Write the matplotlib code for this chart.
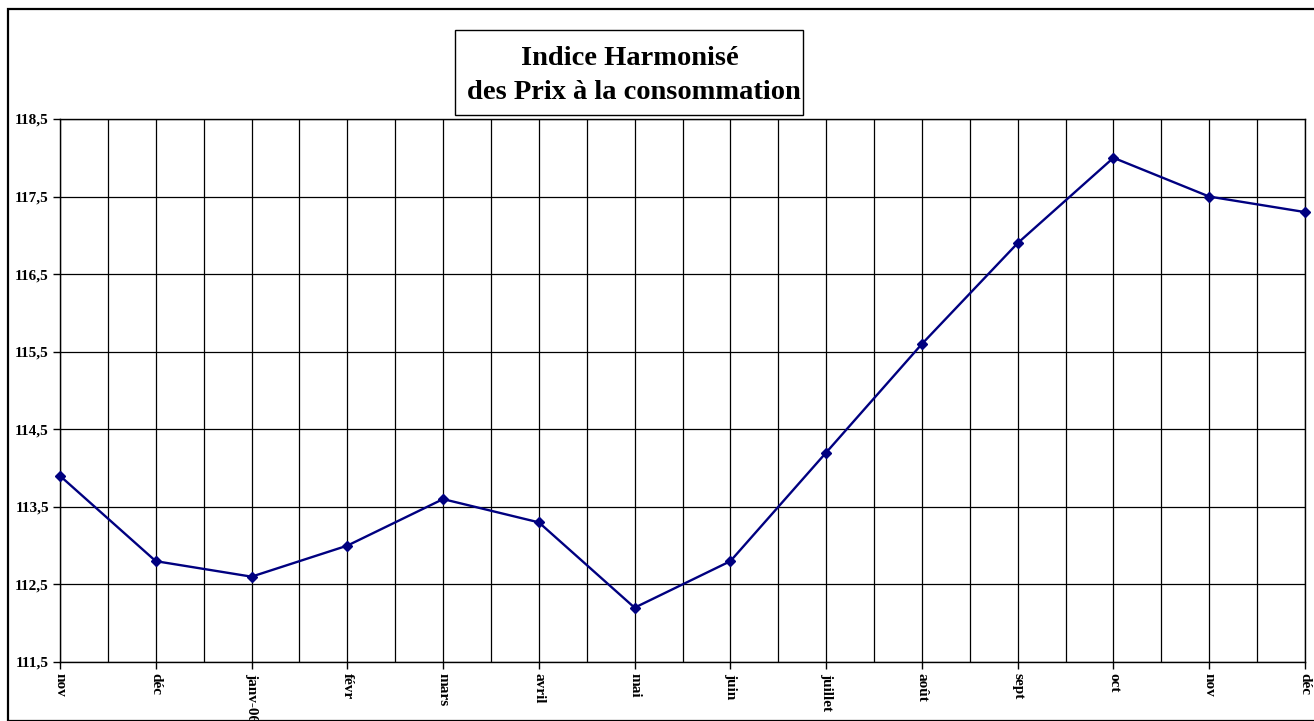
import matplotlib
matplotlib.use("Agg")
import matplotlib.pyplot as plt
from matplotlib.patches import Rectangle
import numpy as np

categories = ["nov", "déc", "janv-06", "févr", "mars", "avril", "mai", "juin",
              "juillet", "août", "sept", "oct", "nov", "déc"]
values = [113.9, 112.8, 112.6, 113.0, 113.6, 113.3, 112.2, 112.8,
          114.2, 115.6, 116.9, 118.0, 117.5, 117.3]
yticks = [111.5, 112.5, 113.5, 114.5, 115.5, 116.5, 117.5, 118.5]
ytick_labels = ["111,5", "112,5", "113,5", "114,5", "115,5", "116,5", "117,5", "118,5"]
title_lines = ["Indice Harmonisé", "des Prix à la consommation"]

plt.rcParams['font.family'] = ['Liberation Serif', 'DejaVu Serif']

W, H = 1314, 721
fig = plt.figure(figsize=(W / 100, H / 100), dpi=100)

# outer frame
fig.patches.append(Rectangle((8 / W, 0), 2.0, (H - 9) / H, transform=fig.transFigure,
                             fill=False, edgecolor='black', linewidth=1.6, zorder=0))

ax = fig.add_axes([60 / W, (H - 662) / H, 1245 / W, 543 / H])
x = np.arange(len(categories))
ax.plot(x, values, color='#000080', linewidth=1.7, marker='D', markersize=5,
        markerfacecolor='#000080', markeredgecolor='#000080', zorder=3, clip_on=False)

ax.set_xlim(0, len(categories) - 1)
ax.set_ylim(111.5, 118.5)
ax.set_yticks(yticks)
ax.set_yticklabels(ytick_labels, fontweight='bold', fontsize=11)
ax.set_xticks(x)
ax.set_xticklabels(categories, rotation=-90, fontweight='bold', fontsize=11,
                   va='top', ha='center')
ax.set_xticks(np.arange(0.5, len(categories) - 1, 1.0), minor=True)
ax.tick_params(axis='x', which='minor', length=0)
ax.tick_params(axis='both', which='major', direction='out', length=5, width=1,
               color='black', pad=3)
ax.grid(True, which='both', axis='x', color='black', linewidth=0.9)
ax.grid(True, which='major', axis='y', color='black', linewidth=0.9)
ax.set_axisbelow(True)
for s in ax.spines.values():
    s.set_linewidth(1.0)
    s.set_color('black')

# title box
fig.patches.append(Rectangle((455 / W, (H - 115) / H), 348 / W, 85 / H,
                             transform=fig.transFigure, fill=False,
                             edgecolor='black', linewidth=1.0))
fig.text(630 / W, (H - 65) / H, title_lines[0], ha='center', va='baseline',
         fontsize=20.5, fontweight='bold')
fig.text(634 / W, (H - 99) / H, title_lines[1], ha='center', va='baseline',
         fontsize=20.5, fontweight='bold')

fig.savefig("out.png", dpi=100)
